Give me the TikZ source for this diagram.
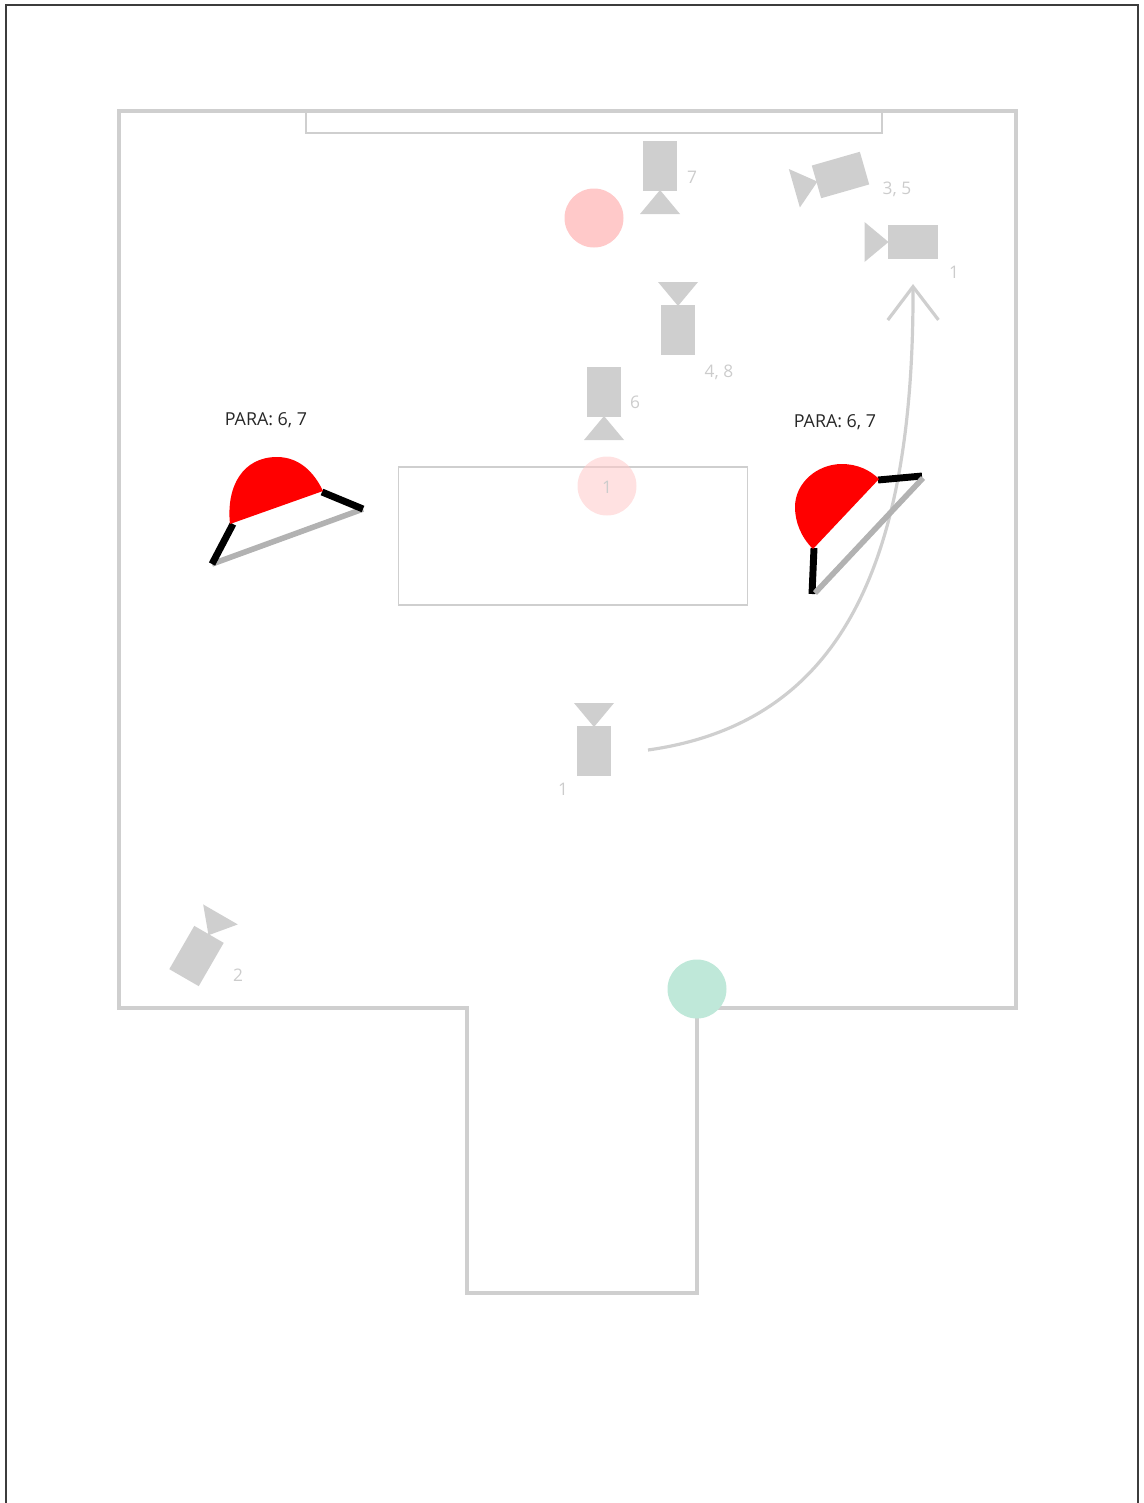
\documentclass[tikz,border=0pt]{standalone}
\usepackage{fontspec}
\setmainfont{Open Sans}
\usetikzlibrary{arrows.meta}
\definecolor{wallgrey}{HTML}{CFCFCF}
\definecolor{framegrey}{HTML}{3C3C3C}
\definecolor{labelgrey}{HTML}{CCCCCC}
\definecolor{bargrey}{HTML}{B2B2B2}
\definecolor{spotpink}{HTML}{FFC9C9}
\definecolor{spotgreen}{HTML}{BFE8D9}
\tikzset{
  camera/.pic={
    \fill[wallgrey] (-25,-17) rectangle (25,17);
    \fill[wallgrey] (-24,0) -- (-48,-20) -- (-48,20) -- cycle;
  }
}
\begin{document}
\begin{tikzpicture}[
  x=0.75pt, y=-0.75pt,
  wall/.style={draw=wallgrey, line width=2.6pt},
  thinwall/.style={draw=wallgrey, line width=1.3pt},
  spot/.style={circle, inner sep=0pt, minimum size=44.25pt},
  tag/.style={text=labelgrey, font=\fontsize{13}{15}\selectfont, inner sep=0pt},
  para/.style={text=black!85, font=\fontsize{13.4}{15}\selectfont, inner sep=0pt},
  blackbar/.style={draw=black, line width=5.2pt},
  greybar/.style={draw=bargrey, line width=4.2pt}
]
\useasboundingbox (0,0) rectangle (1143,1503);
% outer frame
\draw[framegrey, line width=1.5pt] (5.5,1503) -- (5.5,4.5) -- (1138,4.5) -- (1138,1503);
% room
\draw[wall] (697,1008) -- (1016,1008) -- (1016,111) -- (119,111) -- (119,1008) -- (467,1008) -- (467,1293) -- (697,1293) -- (697,1008);
\draw[thinwall] (306,111) -- (306,133) -- (882,133) -- (882,111);
\draw[thinwall] (398.5,467) rectangle (747.5,605);
% spots
\node[spot, fill=spotpink] (spottop) at (594,218) {};
\node[spot, fill=spotpink, fill opacity=.55] (spottable) at (607,486) {};
\node[spot, fill=spotgreen] (spotdoor) at (697,989) {};
\node[tag] (tagtable) at (607,487) {1};
% cameras
\pic at (660,166) [rotate=90] {camera};
\pic at (678,330) [rotate=-90] {camera};
\pic at (604,392) [rotate=90] {camera};
\pic at (594,751) [rotate=-90] {camera};
\pic at (912.5,242) {camera};
\pic at (840.5,175) [rotate=16] {camera};
\pic at (196.5,956) [rotate=-120] {camera};
\node[tag] (tagseven) at (692,177) {7};
\node[tag] (tagthree) at (897,189) {3, 5};
\node[tag] (tagoneb) at (954,272) {1};
\node[tag] (tagfour) at (719,372) {4, 8};
\node[tag] (tagsix) at (635,402) {6};
\node[tag] (tagone) at (563,789) {1};
\node[tag] (tagtwo) at (238,975) {2};
% camera move
\coordinate (movestart) at (648,750);
\coordinate (moveend) at (913,284);
\draw[wallgrey, line width=2.4pt, -{Straight Barb[length=25pt,width=38pt]}] (movestart) .. controls (825,725) and (914,590) .. (moveend);
% left lamp
\node[para] (paraleft) at (266,420) {PARA: 6, 7};
\coordinate (leftfoota) at (212,564);
\coordinate (leftfootb) at (363,509);
\coordinate (leftarma) at (233,524);
\coordinate (leftarmb) at (322,492);
\draw[greybar] (leftfoota) -- (leftfootb);
\draw[blackbar] (leftfoota) -- (leftarma);
\draw[blackbar] (leftfootb) -- (leftarmb);
\fill[red] (230,524) .. controls (226,486) and (243,457) .. (277,457) .. controls (299,457) and (314,472) .. (323,491) -- cycle;
% right lamp
\node[para] (pararight) at (835,422) {PARA: 6, 7};
\coordinate (rightfoota) at (812,594);
\coordinate (rightfootb) at (922,476);
\coordinate (rightarma) at (814,548);
\coordinate (rightarmb) at (878,480);
\draw[blackbar] (rightfoota) -- (rightarma);
\draw[blackbar] (rightfootb) -- (rightarmb);
\draw[greybar] (815,593) -- (923,478);
\fill[red] (813,549) .. controls (801,537) and (795,522) .. (795,507) .. controls (795,483) and (817,464) .. (842,464) .. controls (857,464) and (870,470) .. (879,479) -- cycle;
\end{tikzpicture}
\end{document}
